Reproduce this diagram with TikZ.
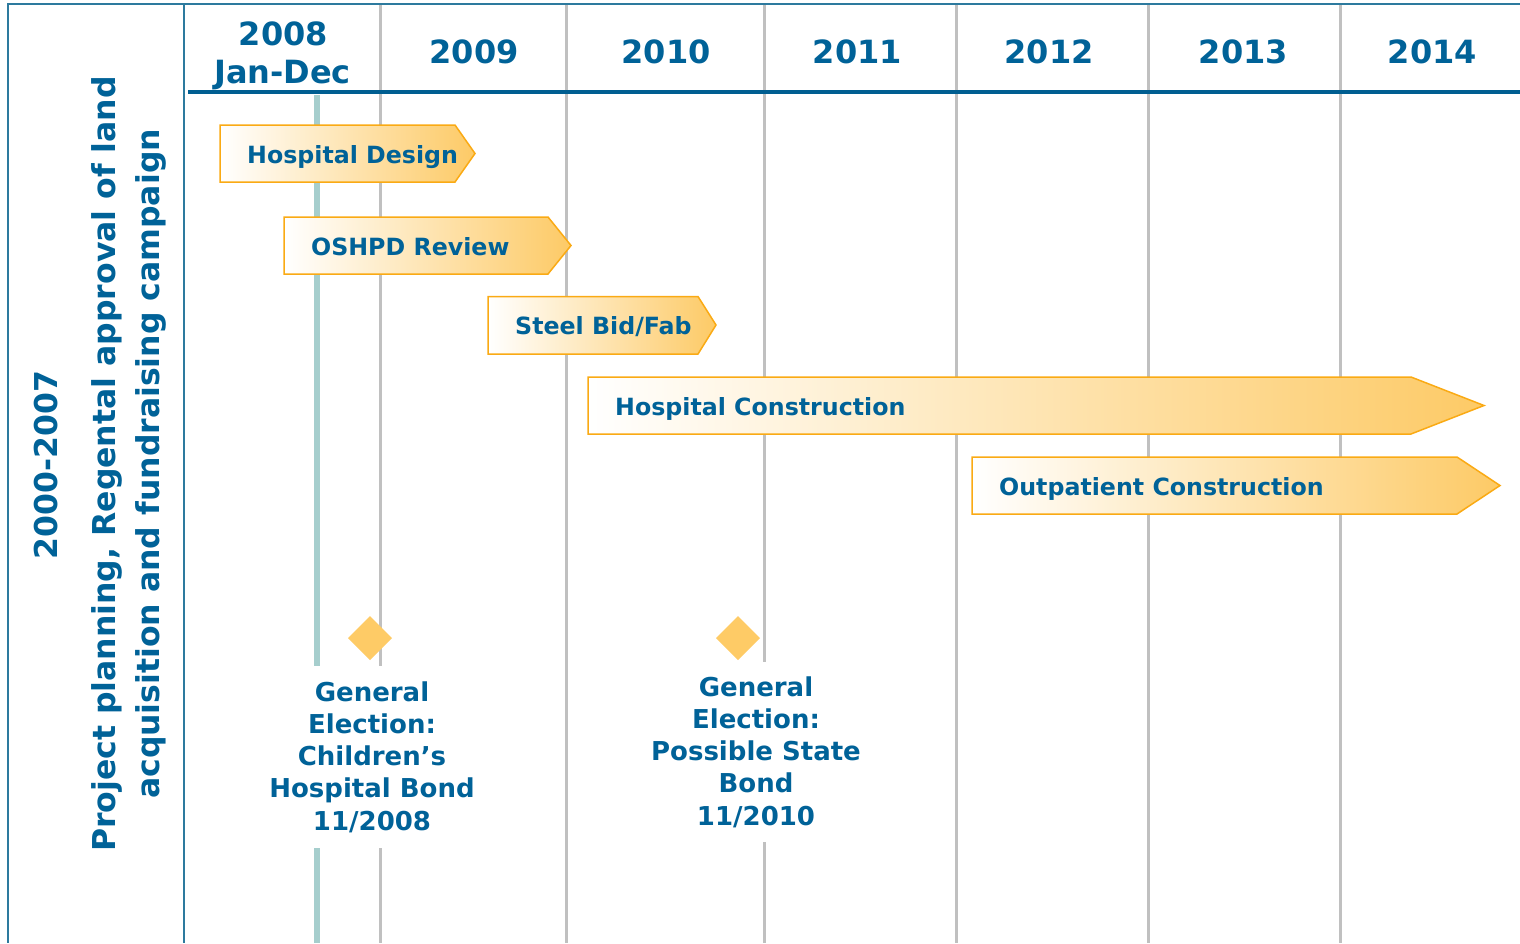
\documentclass[tikz,border=0pt]{standalone}
\usepackage{fontspec}
\setmainfont{DejaVu Sans}
\definecolor{txt}{RGB}{0,98,152}
\definecolor{frame}{RGB}{45,122,158}
\definecolor{headline}{RGB}{0,94,145}
\definecolor{gridgray}{RGB}{192,192,192}
\definecolor{tealline}{RGB}{166,206,205}
\definecolor{barline}{RGB}{250,170,20}
\definecolor{barfill}{RGB}{253,202,102}
\definecolor{diamcol}{RGB}{254,203,102}
\begin{document}
\begin{tikzpicture}[x=1pt,y=-1pt,
  gridline/.style={draw=gridgray, line width=3pt},
  frameline/.style={draw=frame, line width=2pt},
  bar/.style={draw=barline, line width=1.5pt, left color=white, right color=barfill},
  bartext/.style={anchor=base west, inner sep=0pt, text=txt, font=\fontsize{23.7}{28}\selectfont\bfseries},
  year/.style={anchor=base, inner sep=0pt, text=txt, font=\fontsize{32}{38}\selectfont\bfseries},
  side/.style={anchor=base, inner sep=0pt, rotate=90, text=txt, font=\fontsize{31.5}{40}\selectfont\bfseries},
  elect/.style={align=center, fill=white, inner xsep=4pt, inner ysep=0pt, text=txt, font=\fontsize{26}{32.2}\selectfont\bfseries},
  diam/.style={fill=diamcol}]
\useasboundingbox (0,0) rectangle (1520,943);
% grid lines
\foreach \gx in {380,566,764,956,1148,1340}
  \draw[gridline] (\gx,4) -- (\gx,943);
% teal 2008 line
\draw[draw=tealline, line width=6pt] (317,95) -- (317,943);
% frame
\draw[frameline] (1520,4) -- (8,4) -- (8,943);
\draw[frameline] (184,4) -- (184,943);
% header underline
\draw[draw=headline, line width=4pt] (188,92) -- (1520,92);
% years
\node[year] (y2008) at (283.5,45) {2008};
\node[year] (jandec) at (282.5,83) {Jan-Dec};
\node[year] (y2009) at (474,63.5) {2009};
\node[year] (y2010) at (666,63.5) {2010};
\node[year] (y2011) at (857.5,63.5) {2011};
\node[year] (y2012) at (1049,63.5) {2012};
\node[year] (y2013) at (1243.5,63.5) {2013};
\node[year] (y2014) at (1432.5,63.5) {2014};
% side texts
\node[side] (pre) at (57,465) {2000-2007};
\node[side] (plan1) at (115,464) {Project planning, Regental approval of land};
\node[side] (plan2) at (159.5,464) {acquisition and fundraising campaign};
% bars
\path[bar] (220,125) -- (455,125) -- (475,153.5) -- (455,182) -- (220,182) -- cycle;
\node[bartext] (hd) at (247,163.3) {Hospital Design};
\path[bar] (284,217) -- (548,217) -- (571,245.5) -- (548,274) -- (284,274) -- cycle;
\node[bartext] (os) at (311,255.5) {OSHPD Review};
\path[bar] (488,296.5) -- (698,296.5) -- (716,325) -- (698,354) -- (488,354) -- cycle;
\node[bartext] (sb) at (515,334.6) {Steel Bid/Fab};
\path[bar] (588,377) -- (1411,377) -- (1484,405.5) -- (1411,434) -- (588,434) -- cycle;
\node[bartext] (hc) at (615,415.2) {Hospital Construction};
\path[bar] (972,457) -- (1457,457) -- (1500,485.5) -- (1457,514) -- (972,514) -- cycle;
\node[bartext] (oc) at (999,495.2) {Outpatient Construction};
% diamonds
\fill[diam] (370,616) -- (392,638) -- (370,660) -- (348,638) -- cycle;
\fill[diam] (738,616) -- (760,638) -- (738,660) -- (716,638) -- cycle;
% election labels
\node[elect, minimum height=182pt] (e1) at (372,757) {General\\Election:\\Children’s\\Hospital Bond\\11/2008};
\node[elect, minimum height=180pt] (e2) at (756,752) {General\\Election:\\Possible State\\Bond\\11/2010};
\end{tikzpicture}
\end{document}
